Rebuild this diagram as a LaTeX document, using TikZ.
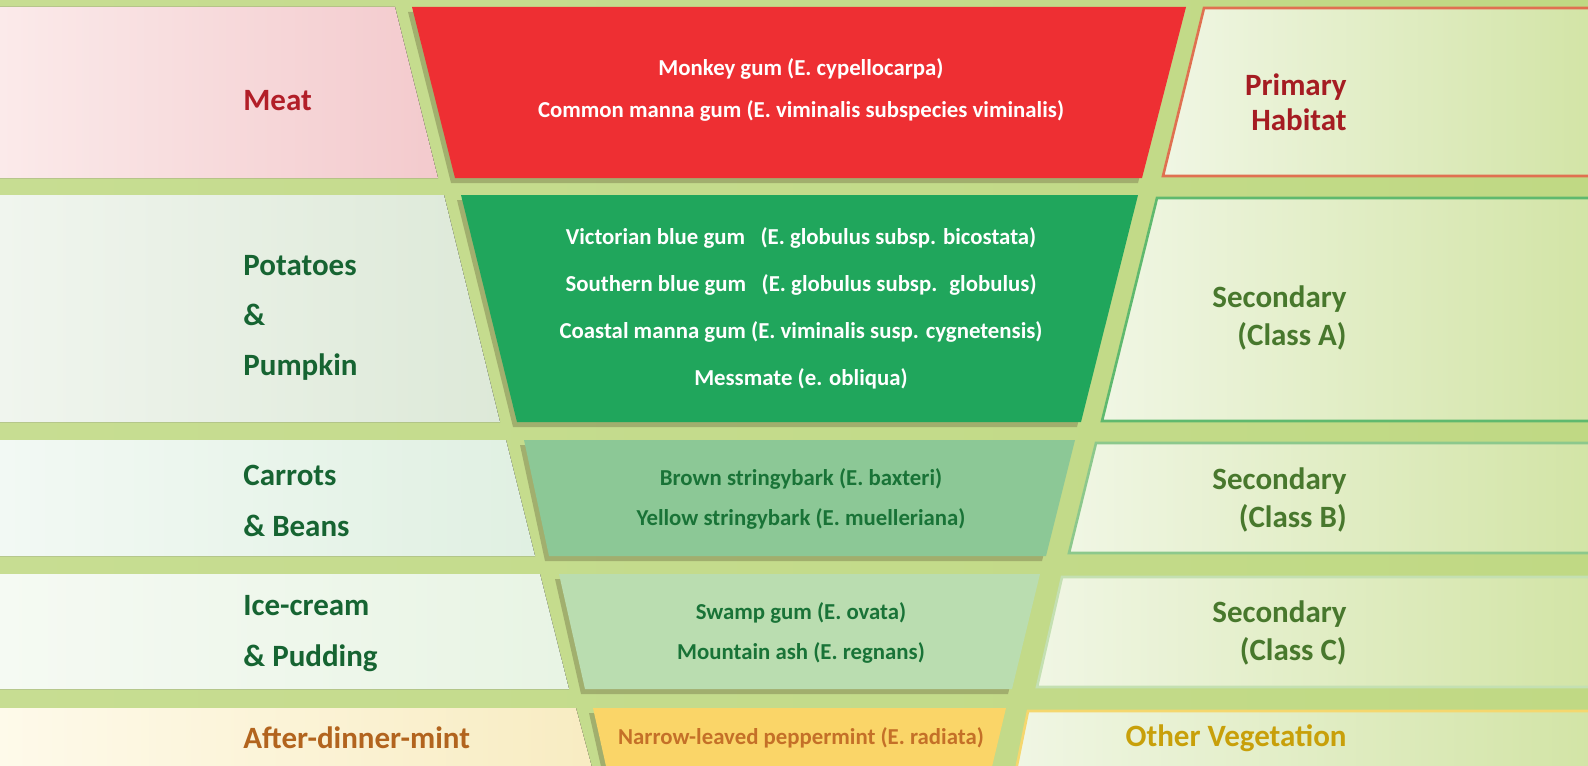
\documentclass[tikz,border=0pt]{standalone}
\usepackage{fontspec}
\setmainfont{Carlito}

\definecolor{leafbg}{RGB}{199,221,146}
\definecolor{leafbgright}{RGB}{192,217,132}
\definecolor{funnelshadow}{RGB}{150,160,100}
\definecolor{funnelred}{RGB}{238,47,51}
\definecolor{funnelgreen}{RGB}{32,166,92}
\definecolor{funnelmid}{RGB}{140,200,150}
\definecolor{funnellight}{RGB}{186,221,176}
\definecolor{funnelyellow}{RGB}{250,213,104}
\definecolor{meatred}{RGB}{178,30,40}
\definecolor{foodgreen}{RGB}{22,100,50}
\definecolor{mintbrown}{RGB}{178,100,30}
\definecolor{habitatred}{RGB}{165,28,34}
\definecolor{habitatgreen}{RGB}{72,120,45}
\definecolor{othergold}{RGB}{200,160,10}
\definecolor{speciesgreen}{RGB}{25,115,55}
\definecolor{speciesorange}{RGB}{196,112,40}
\definecolor{habitatpale}{RGB}{240,246,228}
\definecolor{habitatleaf}{RGB}{210,228,165}
\definecolor{primaryedge}{RGB}{224,112,80}
\definecolor{classaedge}{RGB}{95,185,110}
\definecolor{classbedge}{RGB}{140,200,140}
\definecolor{classcedge}{RGB}{196,224,178}
\definecolor{otheredge}{RGB}{245,215,110}

\tikzset{
  food/.style={anchor=west, align=left, inner sep=0pt, font=\bfseries\fontsize{15.5}{25}\selectfont},
  habitat/.style={anchor=east, align=right, inner sep=0pt, font=\bfseries\fontsize{15.5}{19}\selectfont},
  species/.style={align=center, font=\bfseries\fontsize{11.4}{21}\selectfont},
  funnelshade/.style={fill=funnelshadow, fill opacity=0.75},
  habitatbox/.style={left color=habitatpale, right color=habitatleaf},
}

\begin{document}
\begin{tikzpicture}[x=0.5pt,y=-0.5pt]
\useasboundingbox (0,0) rectangle (1588,765);
\clip (0,0) rectangle (1588,765);
\fill[left color=leafbg, right color=leafbgright] (0,0) rectangle (1588,765);

% left boxes
\fill[left color={rgb,255:red,251;green,234;blue,234}, right color={rgb,255:red,243;green,202;blue,205}] (0,7) -- (395,7) -- (438,178) -- (0,178) -- cycle;
\fill[left color={rgb,255:red,240;green,245;blue,238}, right color={rgb,255:red,221;green,233;blue,216}] (0,195) -- (444,195) -- (500,422) -- (0,422) -- cycle;
\fill[left color={rgb,255:red,242;green,249;blue,244}, right color={rgb,255:red,224;green,240;blue,226}] (0,440) -- (506,440) -- (535,556) -- (0,556) -- cycle;
\fill[left color={rgb,255:red,245;green,250;blue,243}, right color={rgb,255:red,232;green,244;blue,228}] (0,574) -- (540,574) -- (569,689) -- (0,689) -- cycle;
\fill[left color={rgb,255:red,254;green,250;blue,234}, right color={rgb,255:red,248;green,236;blue,194}] (0,708) -- (576,708) -- (594,775) -- (0,775) -- cycle;

% funnel
\fill[funnelshade] (408,12) -- (1182,12) -- (1138,183) -- (451,183) -- cycle;
\fill[funnelred] (412,7) -- (1186,7) -- (1142,178) -- (455,178) -- cycle;
\fill[funnelshade] (457,200) -- (1134,200) -- (1077,427) -- (513,427) -- cycle;
\fill[funnelgreen] (461,195) -- (1138,195) -- (1081,422) -- (517,422) -- cycle;
\fill[funnelshade] (520,445) -- (1071,445) -- (1042,561) -- (545,561) -- cycle;
\fill[funnelmid] (524,440) -- (1075,440) -- (1046,556) -- (549,556) -- cycle;
\fill[funnelshade] (555,579) -- (1036,579) -- (1008,694) -- (581,694) -- cycle;
\fill[funnellight] (559,574) -- (1040,574) -- (1012,689) -- (585,689) -- cycle;
\fill[funnelshade] (589,713) -- (1002,713) -- (986,780) -- (604,780) -- cycle;
\fill[funnelyellow] (593,708) -- (1006,708) -- (990,775) -- (608,775) -- cycle;

% right boxes
\filldraw[habitatbox, draw=primaryedge, line width=1.3pt] (1204,8) -- (1600,8) -- (1600,176) -- (1163,176) -- cycle;
\filldraw[habitatbox, draw=classaedge, line width=1.3pt] (1157,198) -- (1600,198) -- (1600,421) -- (1102,421) -- cycle;
\filldraw[habitatbox, draw=classbedge, line width=1.3pt] (1096,443) -- (1600,443) -- (1600,553) -- (1069,553) -- cycle;
\filldraw[habitatbox, draw=classcedge, line width=1.3pt] (1062,577) -- (1600,577) -- (1600,687) -- (1037,687) -- cycle;
\filldraw[habitatbox, draw=otheredge, line width=1.3pt] (1028,711) -- (1600,711) -- (1600,780) -- (1014,780) -- cycle;

% food labels
\node[food, text=meatred] (meat) at (243,101) {Meat};
\node[food, text=foodgreen] (potatoes) at (243,318) {Potatoes\\\&\\Pumpkin};
\node[food, text=foodgreen, font=\bfseries\fontsize{15.5}{25.5}\selectfont] (carrots) at (243,501) {Carrots\\\& Beans};
\node[food, text=foodgreen, font=\bfseries\fontsize{15.5}{25.5}\selectfont] (icecream) at (243,634) {Ice-cream\\\& Pudding};
\node[food, text=mintbrown] (mint) at (243,738) {After-dinner-mint};

% species
\node[species, text=white] (redgums) at (801,90) {Monkey gum (E. cypellocarpa)\\Common manna gum (E. viminalis subspecies viminalis)};
\node[species, text=white, font=\bfseries\fontsize{11.4}{23.5}\selectfont] (bluegums) at (801,308) {Victorian blue gum~~ (E. globulus subsp. bicostata)\\Southern blue gum~~ (E. globulus subsp.~ globulus)\\Coastal manna gum (E. viminalis susp. cygnetensis)\\Messmate (e. obliqua)};
\node[species, text=speciesgreen, font=\bfseries\fontsize{11.4}{20}\selectfont] (stringybarks) at (801,499) {Brown stringybark (E. baxteri)\\Yellow stringybark (E. muelleriana)};
\node[species, text=speciesgreen, font=\bfseries\fontsize{11.4}{20}\selectfont] (ashgums) at (801,633) {Swamp gum (E. ovata)\\Mountain ash (E. regnans)};
\node[species, text=speciesorange] (peppermint) at (801,738) {Narrow-leaved peppermint (E. radiata)};

% habitat labels
\node[habitat, text=habitatred, font=\bfseries\fontsize{15.5}{17.5}\selectfont] (primary) at (1347,102) {Primary\\Habitat};
\node[habitat, text=habitatgreen] (classa) at (1347,318) {Secondary\\(Class A)};
\node[habitat, text=habitatgreen] (classb) at (1347,500) {Secondary\\(Class B)};
\node[habitat, text=habitatgreen] (classc) at (1347,633) {Secondary\\(Class C)};
\node[habitat, text=othergold] (other) at (1347,738) {Other Vegetation};
\end{tikzpicture}
\end{document}
